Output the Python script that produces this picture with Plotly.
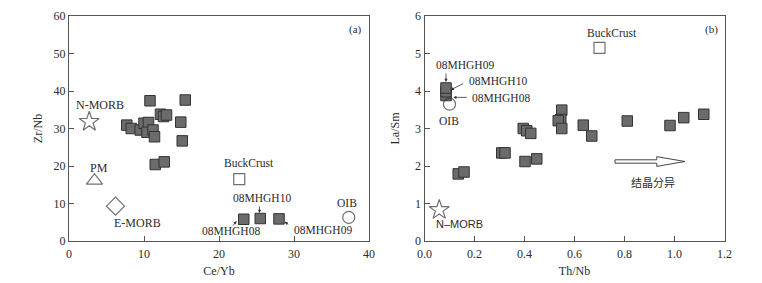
import plotly.graph_objects as go

# ---------- Panel (a): Ce/Yb vs Zr/Nb ----------
a_sample_ceyb = [10.8, 15.5, 7.7, 8.3, 9.5, 10.0, 10.6, 10.4, 11.2, 11.4, 12.2, 12.6, 13.0, 14.9, 15.1, 11.5, 12.7]
a_sample_zrnb = [37.4, 37.6, 30.9, 30.0, 29.6, 31.4, 31.6, 29.0, 29.6, 27.8, 33.8, 33.2, 33.6, 31.7, 26.7, 20.4, 21.1]
a_hl_names = ["08MHGH08", "08MHGH10", "08MHGH09"]
a_hl_ceyb = [23.3, 25.5, 28.0]
a_hl_zrnb = [5.8, 6.0, 5.9]
a_ref_names = ["N-MORB", "PM", "E-MORB", "BuckCrust", "OIB"]
a_ref_ceyb = [2.7, 3.4, 6.2, 22.7, 37.3]
a_ref_zrnb = [31.8, 16.1, 9.3, 16.5, 6.3]

# ---------- Panel (b): Th/Nb vs La/Sm ----------
b_sample_thnb = [0.135, 0.158, 0.309, 0.322, 0.402, 0.449, 0.395, 0.409, 0.425, 0.549, 0.545, 0.535, 0.549,
                 0.635, 0.669, 0.811, 0.982, 1.037, 1.117]
b_sample_lasm = [1.79, 1.84, 2.35, 2.35, 2.12, 2.19, 3.00, 2.94, 2.87, 3.49, 3.24, 3.21, 3.00,
                 3.09, 2.80, 3.20, 3.08, 3.29, 3.38]
b_hl_names = ["08MHGH08", "08MHGH10", "08MHGH09"]
b_hl_thnb = [0.086, 0.086, 0.086]
b_hl_lasm = [3.88, 3.98, 4.08]
b_ref_names = ["N-MORB", "BuckCrust", "OIB"]
b_ref_thnb = [0.059, 0.70, 0.10]
b_ref_lasm = [0.83, 5.15, 3.65]

SERIF = "Liberation Serif"
TXT = "#2b2b2b"
EDGE = "#333333"
FILL = "#6b6b6b"

ref_symbols = {"N-MORB": "star-open", "PM": "triangle-up-open", "E-MORB": "diamond-open",
               "BuckCrust": "square-open", "OIB": "circle-open"}
ref_sizes = {"N-MORB": 15, "PM": 14, "E-MORB": 14, "BuckCrust": 11, "OIB": 12}

fig = go.Figure()

sq = dict(symbol="square", size=10.5, color=FILL, line=dict(color=EDGE, width=1))

# panel a traces
fig.add_trace(go.Scatter(x=a_sample_ceyb, y=a_sample_zrnb, mode="markers", marker=sq,
                         xaxis="x", yaxis="y", showlegend=False))
fig.add_trace(go.Scatter(x=a_hl_ceyb, y=a_hl_zrnb, mode="markers", marker=sq,
                         xaxis="x", yaxis="y", showlegend=False))
fig.add_trace(go.Scatter(x=a_ref_ceyb, y=a_ref_zrnb, mode="markers",
                         marker=dict(symbol=[ref_symbols[n] for n in a_ref_names],
                                     size=[ref_sizes[n] for n in a_ref_names],
                                     color=EDGE, line=dict(color=EDGE, width=1.2)),
                         xaxis="x", yaxis="y", showlegend=False))

# panel b traces
fig.add_trace(go.Scatter(x=b_sample_thnb, y=b_sample_lasm, mode="markers", marker=sq,
                         xaxis="x2", yaxis="y2", showlegend=False))
fig.add_trace(go.Scatter(x=b_hl_thnb, y=b_hl_lasm, mode="markers", marker=sq,
                         xaxis="x2", yaxis="y2", showlegend=False))
fig.add_trace(go.Scatter(x=b_ref_thnb, y=b_ref_lasm, mode="markers",
                         marker=dict(symbol=[ref_symbols[n] for n in b_ref_names],
                                     size=[ref_sizes[n] for n in b_ref_names],
                                     color=EDGE, line=dict(color=EDGE, width=1.2)),
                         xaxis="x2", yaxis="y2", showlegend=False))

ann = []
def label(text, x, y, xr, yr, size=11, family=SERIF):
    ann.append(dict(text=text, x=x, y=y, xref=xr, yref=yr, showarrow=False,
                    font=dict(family=family, size=size, color=TXT)))

def arrow(x, y, ax, ay, xr, yr):
    ann.append(dict(text="", x=x, y=y, xref=xr, yref=yr, showarrow=True, ax=ax, ay=ay,
                    arrowhead=2, arrowsize=0.8, arrowwidth=0.8, arrowcolor=EDGE))

# panel a labels
label("N-MORB", 4.17, 36.3, "x", "y", 12)
label("PM", 3.94, 19.5, "x", "y", 12)
label("E-MORB", 9.15, 4.8, "x", "y", 12)
label("BuckCrust", 23.96, 20.8, "x", "y", 11.5)
label("08MHGH10", 25.7, 11.5, "x", "y", 11.5)
label("08MHGH08", 21.56, 2.67, "x", "y", 11.5)
label("08MHGH09", 33.85, 2.93, "x", "y", 11.5)
label("OIB", 37.05, 10.1, "x", "y", 11.5)
label("(a)", 38.25, 56.3, "x", "y", 11)
arrow(25.4, 7.47, 0, -8, "x", "y")
arrow(22.36, 5.33, -5, 6, "x", "y")
arrow(28.77, 5.15, 5, 4, "x", "y")

# panel b labels
label("08MHGH09", 0.162, 4.69, "x2", "y2", 11.5)
label("08MHGH10", 0.294, 4.27, "x2", "y2", 11.5)
label("08MHGH08", 0.305, 3.81, "x2", "y2", 11.5)
label("OIB", 0.099, 3.21, "x2", "y2", 11.5)
label("BuckCrust", 0.749, 5.55, "x2", "y2", 11.5)
label("N\u2013MORB", 0.142, 0.45, "x2", "y2", 11, "Liberation Sans")
label("结晶分异", 0.915, 1.58, "x2", "y2", 11, "Noto Sans CJK SC")
label("(b)", 1.149, 5.63, "x2", "y2", 11)
arrow(0.086, 4.24, 0, -10, "x2", "y2")
arrow(0.105, 4.03, 14, -7, "x2", "y2")
arrow(0.115, 3.83, 15, 0, "x2", "y2")

# hollow arrow (fractional crystallization trend)
x0, xh, xe, yc = 0.762, 0.929, 1.042, 2.12
ht, hh = 0.045, 0.13
path = (f"M {x0},{yc+ht} L {xh},{yc+ht} L {xh},{yc+hh} L {xe},{yc} L {xh},{yc-hh} "
        f"L {xh},{yc-ht} L {x0},{yc-ht} Z")
shapes = [dict(type="path", path=path, xref="x2", yref="y2", fillcolor="white",
               line=dict(color="#444444", width=1))]

axis_common = dict(showline=True, mirror=True, linecolor="#555555", linewidth=1, automargin=False,
                   ticks="inside", ticklen=5, tickcolor="#555555", showgrid=False, zeroline=False,
                   tickfont=dict(family=SERIF, size=12, color=TXT))

# page body has an 8px offset; domains are shifted to compensate
OFF = 8
W, H = 762, 283
yb, yt = (H - (241 - OFF)) / H, (H - (16 - OFF)) / H
tfont = dict(family=SERIF, size=12, color=TXT)

fig.update_layout(
    width=W, height=H, margin=dict(l=0, r=0, t=0, b=0),
    paper_bgcolor="white", plot_bgcolor="white",
    xaxis=dict(domain=[(69 - OFF)/W, (369 - OFF)/W], range=[0, 40], dtick=10, anchor="y",
               ticklabelstandoff=2, title=dict(text="Ce/Yb", font=tfont, standoff=6),
               **axis_common),
    yaxis=dict(domain=[yb, yt], range=[0, 60], dtick=10, anchor="x",
               title=dict(text="Zr/Nb", font=tfont, standoff=8),
               **axis_common),
    xaxis2=dict(domain=[(424.5 - OFF)/W, (724.5 - OFF)/W], range=[0, 1.2], dtick=0.2, tickformat=".1f",
                anchor="y2", ticklabelstandoff=2,
                title=dict(text="Th/Nb", font=tfont, standoff=6),
                **axis_common),
    yaxis2=dict(domain=[yb, yt], range=[0, 6], dtick=1, anchor="x2",
                title=dict(text="La/Sm", font=tfont, standoff=12),
                **axis_common),
    annotations=ann, shapes=shapes,
)

fig.write_html("out.html")
